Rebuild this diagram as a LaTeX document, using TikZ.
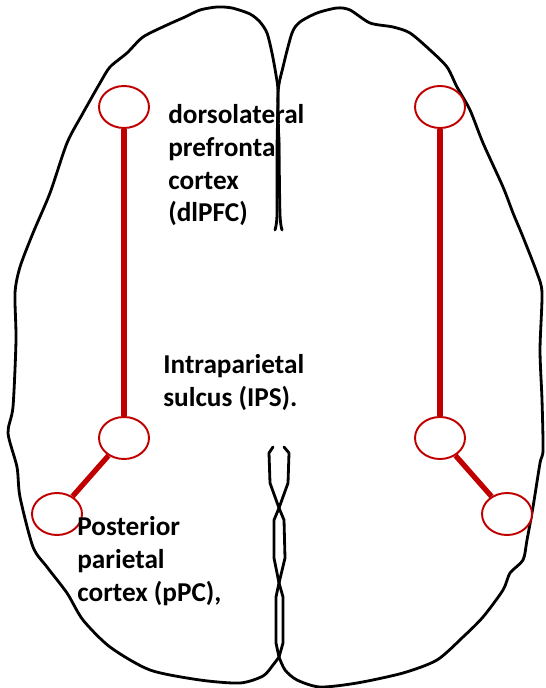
\documentclass[tikz,border=0pt]{standalone}
\usepackage{fontspec}
\setmainfont{Carlito}
\usetikzlibrary{shapes.geometric}
\definecolor{netred}{HTML}{C00000}
\tikzset{
  lobe/.style={draw=black, line width=1.6pt, line join=round, line cap=round},
  roi/.style={ellipse, draw=netred, line width=1.1pt, fill=white,
              minimum width=1cm, minimum height=0.84cm, inner sep=0pt},
  tract/.style={draw=netred, line width=3pt},
  areatext/.style={anchor=base west, align=left, inner sep=0pt,
                   font=\fontsize{15.5}{18.6}\selectfont\bfseries},
}

\begin{document}
\begin{tikzpicture}[x=0.02cm, y=-0.02cm]
  \useasboundingbox (0,0) rectangle (545,688);

  % left hemisphere
  \draw[lobe] plot[smooth, tension=.45] coordinates {
    (275,230) (277,215) (277,150) (278,93) (276,75) (272,53) (267,33)
    (260,22) (250,14) (232,8) (217,7) (200,10) (185,17) (167,25) (143,37)
    (127,53) (110,67) (100,83) (83,113) (67,143) (50,193) (33,233) (20,267)
    (15,293) (16,340) (13,407) (8,433) (17,467) (20,497) (33,547) (47,567)
    (67,593) (83,620) (110,647) (150,670) (200,680) (240,683) (263,676)
    (273,665) (279,657)}
    -- (276,643) -- (276,597) -- (279,583) -- (285,558) -- (284,520)
    -- (279,508) -- (270,483) -- (269,453) -- (273,447);

  % right hemisphere
  \draw[lobe] plot[smooth, tension=.45] coordinates {
    (282,230) (280,215) (279,150) (278,93) (283,67) (292,33) (300,22)
    (317,13) (337,8) (350,10) (370,23) (393,27) (410,33) (430,50) (447,67)
    (457,87) (470,110) (483,143) (503,187) (513,213) (523,237) (537,273)
    (542,293) (540,350) (542,400) (543,450) (540,463) (533,507) (527,540)
    (523,560) (510,573) (503,590) (483,617) (463,637) (437,660) (403,673)
    (357,683) (320,687) (297,680) (285,670) (279,657)}
    -- (283,643) -- (283,597) -- (279,583) -- (274,558) -- (274,520)
    -- (279,508) -- (288,483) -- (289,453) -- (284,447);

  % regions, left side
  \node (dlpfcL) [roi] at (124,107) {};
  \node (ipsL)   [roi] at (124,438) {};
  \node (ppcL)   [roi] at (57,514) {};
  % regions, right side
  \node (dlpfcR) [roi] at (440,107) {};
  \node (ipsR)   [roi] at (440,438) {};
  \node (ppcR)   [roi] at (507,514) {};

  \draw[tract] (dlpfcL) -- (ipsL); \draw[tract] (ipsL) -- (ppcL);
  \draw[tract] (dlpfcR) -- (ipsR); \draw[tract] (ipsR) -- (ppcR);

  % base anchor sits on the last line
  \node (dlpfcTxt) [areatext] at (168,222) {dorsolateral\\prefrontal\\cortex\\(dlPFC)};
  \node (ipsTxt)   [areatext] at (163,406) {Intraparietal\\sulcus (IPS).};
  \node (ppcTxt)   [areatext] at (77,601)  {Posterior\\parietal\\cortex (pPC),};
\end{tikzpicture}
\end{document}
